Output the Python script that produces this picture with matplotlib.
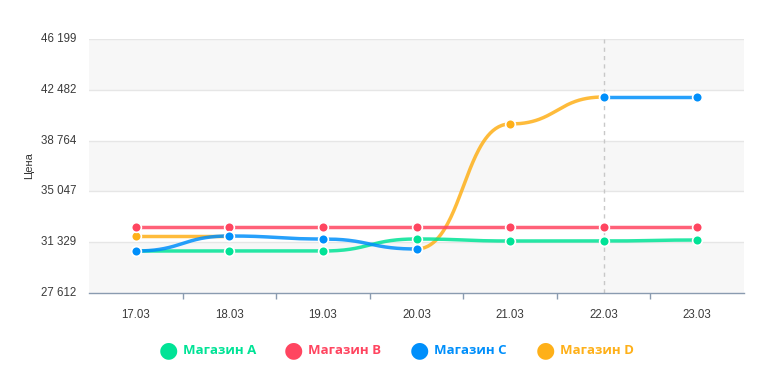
import matplotlib
matplotlib.use("Agg")
import matplotlib.pyplot as plt
import numpy as np

categories = ["17.03", "18.03", "19.03", "20.03", "21.03", "22.03", "23.03"]
series_names = ["Магазин A", "Магазин B", "Магазин C", "Магазин D"]
store_a = [30685, 30685, 30685, 31564, 31417, 31417, 31490]
store_b = [32442, 32442, 32442, 32442, 32442, 32442, 32442]
store_c = [30685, 31783, 31564, 30832, None, 41955, 41955]
store_d = [31783, 31783, None, 30832, 39979, 41955, None]
colors = ["#00E396", "#FF4560", "#008FFB", "#FEB019"]
yticks = [27612, 31329, 35047, 38764, 42482, 46199]
crosshair_cat = "22.03"

plt.rcParams['font.family'] = ['Liberation Sans', 'DejaVu Sans']

fig = plt.figure(figsize=(7.7, 3.73), dpi=100)
ax = fig.add_axes([89/770, 1-293/373, (744-89)/770, (293-39)/373])


def smooth_segments(xs, ys, k=0.5):
    """Smooth path: cubic Bezier between consecutive points with horizontal tangents."""
    runs = []
    cur = []
    for x, y in zip(xs, ys):
        if y is None:
            if cur:
                runs.append(cur)
            cur = []
        else:
            cur.append((x, y))
    if cur:
        runs.append(cur)
    out = []
    t = np.linspace(0, 1, 80)
    for run in runs:
        X, Y = [], []
        for i in range(len(run) - 1):
            (x0, y0), (x3, y3) = run[i], run[i+1]
            dx = x3 - x0
            p0 = np.array([x0, y0]); p1 = np.array([x0 + k*dx, y0])
            p2 = np.array([x3 - k*dx, y3]); p3 = np.array([x3, y3])
            pts = ((1-t)**3)[:, None]*p0 + (3*(1-t)**2*t)[:, None]*p1 + (3*(1-t)*t**2)[:, None]*p2 + (t**3)[:, None]*p3
            X.extend(pts[:, 0]); Y.extend(pts[:, 1])
        if X:
            out.append((np.array(X), np.array(Y)))
    return out


# background bands
for i in range(len(yticks)-1):
    if i % 2 == 0:
        ax.axhspan(yticks[i], yticks[i+1], color="#f7f7f7", zorder=0, lw=0)
for yt in yticks[1:]:
    ax.axhline(yt, color="#e6e6e6", lw=1, zorder=0.5)

xs = np.arange(len(categories))
ax.axvline(categories.index(crosshair_cat), color="#c8c8c8", lw=1, ls=(0, (3, 3)), zorder=1)

all_series = [store_a, store_b, store_c, store_d]
zorders = [3, 3, 5, 2]
for vals, col, z in zip(all_series, colors, zorders):
    for X, Y in smooth_segments(xs, vals):
        ax.plot(X, Y, color=col, lw=2.5, alpha=0.85, zorder=z, solid_capstyle='round')
    mx = [x for x, v in zip(xs, vals) if v is not None]
    my = [v for v in vals if v is not None]
    ax.plot(mx, my, ls='none', marker='o', ms=7, mfc=col, mec='white', mew=1.2, zorder=z+0.5)

ax.set_xlim(-0.5, len(categories)-0.5)
ax.set_ylim(yticks[0], yticks[-1])
ax.set_yticks(yticks)
ax.set_yticklabels([f"{v:,}".replace(",", " ") for v in yticks], fontsize=8.3, color="#3a3a3a")
ax.set_xticks(xs)
ax.set_xticklabels(categories, fontsize=8.3, color="#3a3a3a")
ax.tick_params(axis='x', length=0, pad=11.5)
ax.tick_params(axis='y', length=0, pad=9)
ax.set_xticks(np.arange(0.5, len(categories)-1, 1), minor=True)
ax.tick_params(axis='x', which='minor', length=4, color="#8a9bb0", width=1)
for sp in ["top", "right", "left"]:
    ax.spines[sp].set_visible(False)
ax.spines["bottom"].set_color("#8a9bb0")
ax.spines["bottom"].set_linewidth(1)
ax.set_ylabel("Цена", fontsize=8, color="#333333", labelpad=5)
for lbl in ax.get_yticklabels():
    lbl.set_verticalalignment('center')

# legend
legend_x = [168, 293, 419, 545]
for name, col, lx in zip(series_names, colors, legend_x):
    fig.text(lx/770, 1-350/373, "●", color=col, fontsize=16, ha='center', va='center', family=['DejaVu Sans'])
    fig.text((lx+15)/770, 1-350/373, name, color=col, fontsize=9.5, fontweight='bold', ha='left', va='center', family=['Open Sans', 'DejaVu Sans'])

fig.savefig("out.png", dpi=100)
